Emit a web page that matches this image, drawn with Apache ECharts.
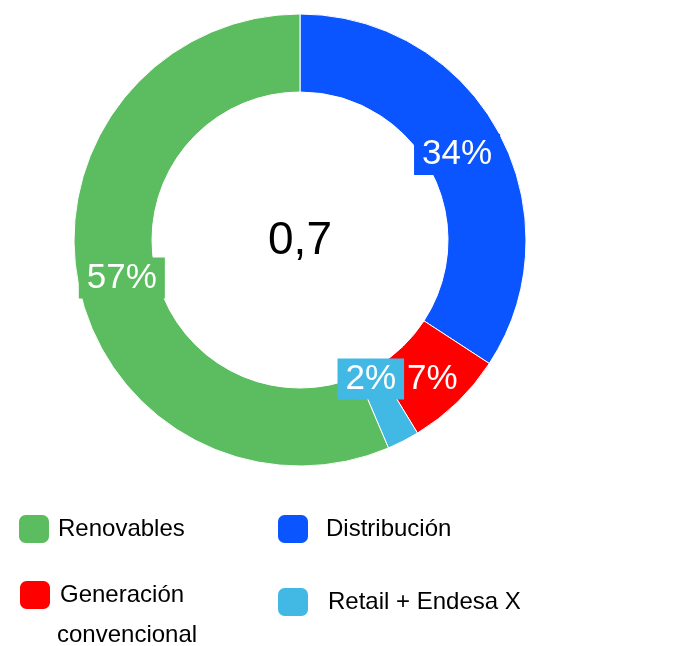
<!DOCTYPE html>
<html>
<head>
<meta charset="utf-8">
<script src="https://cdn.jsdelivr.net/npm/echarts@6/dist/echarts.min.js"></script>
<style>
  html, body { margin: 0; padding: 0; background: #fff; }
  #chart { width: 695px; height: 646px; }
</style>
</head>
<body>
<div id="chart"></div>
<script>
  // slices in drawing order (clockwise from 12 o'clock), share in %
  const names = ['Distribución', 'Generación convencional', 'Retail + Endesa X', 'Renovables']
  const shares = [34.2, 7.1, 2.3, 56.4]
  const colors = ['#0a55ff', '#ff0000', '#42b9e5', '#5bbd5f']
  const totalLabel = '0,7'

  const font = '"Liberation Sans", Arial, sans-serif'

  // small nudges so the labels sit where the original has them
  const labelOffset = {
    'Distribución': [-10, 5],
    'Generación convencional': [0, 3],
    'Retail + Endesa X': [-16, -30],
    'Renovables': [8, 0],
  }

  const legendItem = (name, left, top, padLeft, text) => ({
    data: [name],
    left,
    top,
    padding: 0,
    orient: 'horizontal',
    icon: 'roundRect',
    itemWidth: 32,
    itemHeight: 30,
    selectedMode: false,
    formatter: () => text || name,
    textStyle: {
      fontFamily: font,
      fontSize: 24,
      color: '#000',
      padding: [0, 0, 0, padLeft],
    },
  })

  const chart = echarts.init(document.getElementById('chart'))
  chart.setOption({
    animation: false,
    color: colors,
    legend: [
      legendItem('Renovables', 17, 513, 3),
      legendItem('Distribución', 276, 513, 12),
      legendItem('Generación convencional', 18, 579, 4, 'Generación'),
      legendItem('Retail + Endesa X', 276, 586, 14),
    ],
    graphic: [
      {
        type: 'text',
        left: 57,
        top: 623,
        style: { text: 'convencional', font: '24px ' + font, fill: '#000' },
      },
      {
        type: 'text',
        x: 300,
        y: 241,
        style: {
          text: totalLabel,
          font: '46px ' + font,
          fill: '#000',
          align: 'center',
          verticalAlign: 'middle',
        },
      },
    ],
    series: [
      {
        type: 'pie',
        center: [300, 240],
        radius: [148, 226],
        startAngle: 90,
        clockwise: true,
        percentPrecision: 0,
        silent: true,
        avoidLabelOverlap: false,
        labelLayout: { hideOverlap: false },
        itemStyle: {
          borderColor: '#fff',
          borderWidth: 1,
        },
        label: {
          show: true,
          position: 'inside',
          formatter: '{d}%',
          fontFamily: font,
          fontSize: 35,
          color: '#fff',
          padding: [3, 8],
        },
        labelLine: { show: false },
        data: names.map((name, i) => ({
          name,
          value: shares[i],
          label: {
            // the red slice label has no box in the original
            backgroundColor: name === 'Generación convencional' ? 'transparent' : colors[i],
            offset: labelOffset[name] || [0, 0],
          },
        })),
      },
    ],
  })
</script>
</body>
</html>
